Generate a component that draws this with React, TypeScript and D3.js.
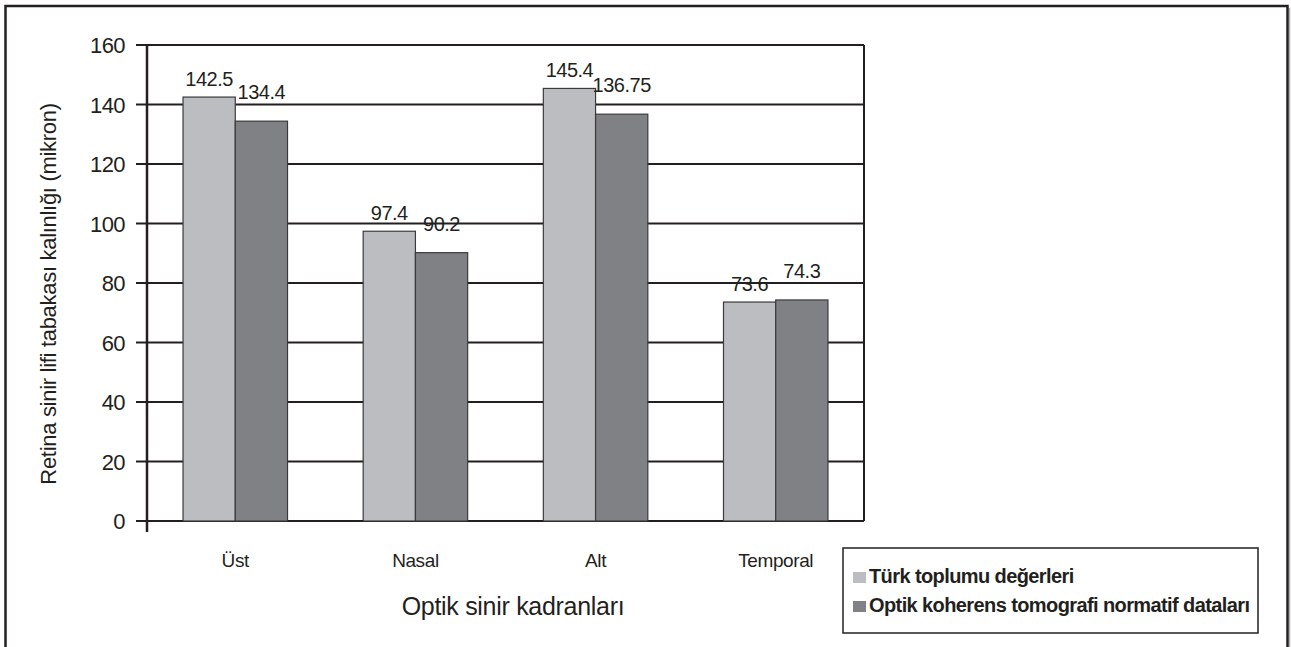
import * as React from 'react';
import * as d3 from 'd3';

const categories = ['Üst', 'Nasal', 'Alt', 'Temporal'];
const seriesNames = ['Türk toplumu değerleri', 'Optik koherens tomografi normatif dataları'];
const turkValues = [142.5, 97.4, 145.4, 73.6];
const octValues = [134.4, 90.2, 136.75, 74.3];
const yTicks = [0, 20, 40, 60, 80, 100, 120, 140, 160];
const seriesColors = ['#bcbdc0', '#808184'];

const WIDTH = 1291;
const HEIGHT = 647;
const FONT = '"Liberation Sans", Arial, Helvetica, sans-serif';
const INK = '#231f20';

export default function App() {
  const ref = React.useRef<SVGSVGElement>(null);

  React.useEffect(() => {
    const svg = d3.select(ref.current);
    svg.selectAll('*').remove();

    const margin = {left: 147, right: 427, top: 45, bottom: 126};
    const innerWidth = WIDTH - margin.left - margin.right;
    const innerHeight = HEIGHT - margin.top - margin.bottom;

    const rows = categories.map((c, i) => ({category: c, values: [turkValues[i], octValues[i]]}));

    const x0 = d3.scaleBand()
      .domain(categories)
      .range([0, innerWidth])
      .paddingInner(0.42)
      .paddingOuter(0.2);

    const x1 = d3.scaleBand()
      .domain(['0', '1'])
      .range([0, x0.bandwidth()]);

    const y = d3.scaleLinear()
      .domain([0, 160])
      .range([innerHeight, 0]);

    // outer frame (bottom edge runs off the picture), with faint shadow on the right
    svg.append('line')
      .attr('x1', 1289.5)
      .attr('x2', 1289.5)
      .attr('y1', 8)
      .attr('y2', HEIGHT)
      .attr('stroke', '#b0b0b0')
      .attr('stroke-width', 1.5);

    svg.append('rect')
      .attr('x', 5.5)
      .attr('y', 6)
      .attr('width', 1282)
      .attr('height', 700)
      .attr('fill', 'none')
      .attr('stroke', INK)
      .attr('stroke-width', 2.5);

    const g = svg.append('g')
      .attr('transform', `translate(${margin.left},${margin.top})`);

    // grid lines + tick stubs
    g.append('g').selectAll('line')
      .data(yTicks)
      .enter().append('line')
      .attr('x1', -11)
      .attr('x2', innerWidth)
      .attr('y1', d => y(d))
      .attr('y2', d => y(d))
      .attr('stroke', INK)
      .attr('stroke-width', 2);

    // right border of plot
    g.append('line')
      .attr('x1', innerWidth)
      .attr('x2', innerWidth)
      .attr('y1', 0)
      .attr('y2', innerHeight)
      .attr('stroke', INK)
      .attr('stroke-width', 2);

    // bars
    const groups = g.append('g').selectAll('g')
      .data(rows)
      .enter().append('g')
      .attr('transform', d => `translate(${x0(d.category)},0)`);

    groups.selectAll('rect')
      .data(d => d.values)
      .enter().append('rect')
      .attr('x', (d, i) => x1(String(i)) as number)
      .attr('y', d => y(d))
      .attr('width', x1.bandwidth())
      .attr('height', d => innerHeight - y(d))
      .attr('fill', (d, i) => seriesColors[i])
      .attr('stroke', '#3c3a3b')
      .attr('stroke-width', 1.2);

    // value labels
    groups.selectAll('text')
      .data(d => d.values)
      .enter().append('text')
      .attr('x', (d, i) => (x1(String(i)) as number) + x1.bandwidth() / 2)
      .attr('y', (d, i) => y(d) - (i === 0 ? 11 : 22))
      .attr('text-anchor', 'middle')
      .attr('font-family', FONT)
      .attr('font-size', 20)
      .attr('letter-spacing', -0.5)
      .attr('fill', INK)
      .text(d => String(d));

    // y axis line
    g.append('line')
      .attr('x1', 0)
      .attr('x2', 0)
      .attr('y1', 0)
      .attr('y2', innerHeight + 11)
      .attr('stroke', INK)
      .attr('stroke-width', 2.5);

    // y tick labels
    g.append('g').selectAll('text')
      .data(yTicks)
      .enter().append('text')
      .attr('x', -22)
      .attr('y', d => y(d))
      .attr('dy', '0.38em')
      .attr('text-anchor', 'end')
      .attr('font-family', FONT)
      .attr('font-size', 22)
      .attr('letter-spacing', -0.6)
      .attr('fill', INK)
      .text(d => d);

    // category labels
    g.append('g').selectAll('text')
      .data(categories)
      .enter().append('text')
      .attr('x', d => (x0(d) as number) + x0.bandwidth() / 2)
      .attr('y', innerHeight + 46)
      .attr('text-anchor', 'middle')
      .attr('font-family', FONT)
      .attr('font-size', 19)
      .attr('letter-spacing', -0.4)
      .attr('fill', INK)
      .text(d => d);

    // axis titles
    svg.append('text')
      .attr('x', 513)
      .attr('y', 615)
      .attr('text-anchor', 'middle')
      .attr('font-family', FONT)
      .attr('font-size', 25)
      .attr('letter-spacing', -0.3)
      .attr('fill', INK)
      .text('Optik sinir kadranları');

    svg.append('text')
      .attr('transform', 'translate(56,294) rotate(-90)')
      .attr('text-anchor', 'middle')
      .attr('font-family', FONT)
      .attr('font-size', 22)
      .attr('letter-spacing', -0.3)
      .attr('fill', INK)
      .text('Retina sinir lifi tabakası kalınlığı (mikron)');

    // legend
    const legend = svg.append('g')
      .attr('transform', 'translate(843,548)');

    legend.append('rect')
      .attr('width', 415)
      .attr('height', 85)
      .attr('fill', 'white')
      .attr('stroke', INK)
      .attr('stroke-width', 1.5);

    const entry = legend.selectAll('g.entry')
      .data(seriesNames)
      .enter().append('g')
      .attr('class', 'entry')
      .attr('transform', (d, i) => `translate(10,${35 + i * 29})`);

    entry.append('rect')
      .attr('y', -11)
      .attr('width', 13)
      .attr('height', 11)
      .attr('fill', (d, i) => seriesColors[i]);

    entry.append('text')
      .attr('x', 16)
      .attr('font-family', FONT)
      .attr('font-size', 20)
      .attr('font-weight', 'bold')
      .attr('letter-spacing', -0.6)
      .attr('fill', INK)
      .text(d => d);
  }, []);

  return (
    <svg ref={ref} width={WIDTH} height={HEIGHT}
      style={{position: 'absolute', left: 0, top: 0, background: 'white'}} />
  );
}
